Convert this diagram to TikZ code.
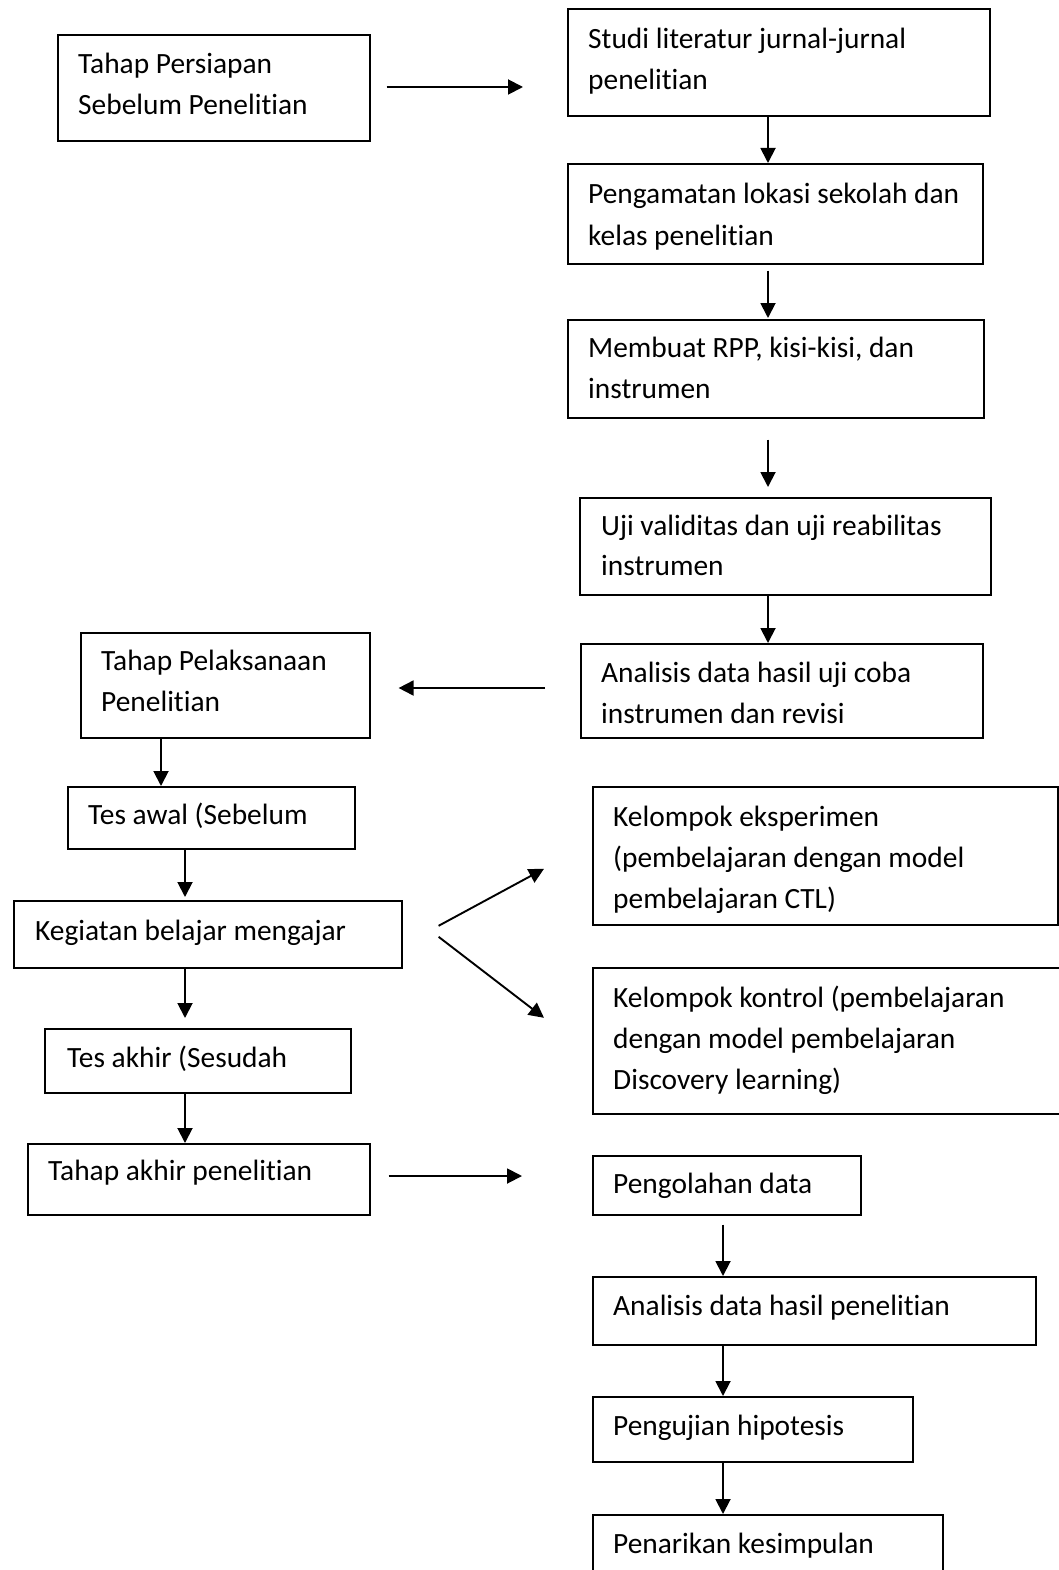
\documentclass[tikz,border=0pt]{standalone}
\usepackage{fontspec}
\setmainfont{Carlito}[Ligatures={NoCommon}]
\usetikzlibrary{arrows.meta,calc}
\tikzset{
  box/.style={draw=black, line width=1.6pt, anchor=north west, inner sep=0pt},
  txt/.style={anchor=base west, inner sep=0pt, font=\fontsize{29.4}{35}\selectfont},
  arr/.style={line width=1.9pt, -{Triangle[length=15pt,width=15pt]}}
}
\newcommand\mkbox[5]{\node[box, minimum width=#4pt-#2pt, minimum height=#5pt-#3pt] (#1) at (#2,#3) {};}
\newcommand\mkline[4]{\node[txt] (#1) at (#2,#3) {#4};}
\begin{document}
\begin{tikzpicture}[x=1pt,y=-1pt]
\clip (0,0) rectangle (1059,1570);
\fill[white] (0,0) rectangle (1059,1570);
% boxes
\mkbox{b1}{57}{34}{369}{140}
\mkbox{b2}{567}{8}{989}{115}
\mkbox{b3}{567}{163}{982}{263}
\mkbox{b4}{567}{319}{983}{417}
\mkbox{b5}{579}{497}{990}{594}
\mkbox{b6}{580}{643}{982}{737}
\mkbox{b7}{80}{632}{369}{737}
\mkbox{b8}{67}{786}{354}{848}
\mkbox{b9}{13}{900}{401}{967}
\mkbox{b10}{44}{1028}{350}{1092}
\mkbox{b11}{27}{1143}{369}{1214}
\mkbox{b12}{592}{786}{1057}{924}
\mkbox{b13}{592}{967}{1070}{1113}
\mkbox{b14}{592}{1155}{860}{1214}
\mkbox{b15}{592}{1276}{1035}{1344}
\mkbox{b16}{592}{1396}{912}{1461}
\mkbox{b17}{592}{1514}{942}{1600}
% texts
\mkline{t1a}{78}{74}{Tahap Persiapan}
\mkline{t1b}{78}{115}{Sebelum Penelitian}
\mkline{t2a}{588}{49}{Studi literatur jurnal-jurnal}
\mkline{t2b}{588}{90}{penelitian}
\mkline{t3a}{588}{204}{Pengamatan lokasi sekolah dan}
\mkline{t3b}{588}{245}{kelas penelitian}
\mkline{t4a}{588}{357}{Membuat RPP, kisi-kisi, dan}
\mkline{t4b}{588}{398}{instrumen}
\mkline{t5a}{601}{535}{Uji validitas dan uji reabilitas}
\mkline{t5b}{601}{575}{instrumen}
\mkline{t6a}{601}{682}{Analisis data hasil uji coba}
\mkline{t6b}{601}{723}{instrumen dan revisi}
\mkline{t7a}{101}{670}{Tahap Pelaksanaan}
\mkline{t7b}{101}{711}{Penelitian}
\mkline{t8}{88}{824}{Tes awal (Sebelum}
\mkline{t9}{35}{940}{Kegiatan belajar mengajar}
\mkline{t10}{67}{1067}{Tes akhir (Sesudah}
\mkline{t11}{48}{1180}{Tahap akhir penelitian}
\mkline{t12a}{613}{826}{Kelompok eksperimen}
\mkline{t12b}{613}{867}{(pembelajaran dengan model}
\mkline{t12c}{613}{908}{pembelajaran CTL)}
\mkline{t13a}{613}{1007}{Kelompok kontrol (pembelajaran}
\mkline{t13b}{613}{1048}{dengan model pembelajaran}
\mkline{t13c}{613}{1089}{Discovery learning)}
\mkline{t14}{613}{1193}{Pengolahan data}
\mkline{t15}{613}{1315}{Analisis data hasil penelitian}
\mkline{t16}{613}{1435}{Pengujian hipotesis}
\mkline{t17}{613}{1553}{Penarikan kesimpulan}
% connectors
\draw[arr, shorten <=16pt, shorten >=44pt] (b1.east |- 0,87) -- (b2.west |- 0,87);
\draw[arr] (b2.south -| 768,0) -- (b3.north -| 768,0);
\draw[arr, shorten <=6pt, shorten >=1pt] (b3.south -| 768,0) -- (b4.north -| 768,0);
\draw[arr, shorten <=21pt, shorten >=10pt] (b4.south -| 768,0) -- (b5.north -| 768,0);
\draw[arr] (b5.south -| 768,0) -- (b6.north -| 768,0);
\draw[arr, shorten <=35pt, shorten >=28pt] (b6.west |- 0,688) -- (b7.east |- 0,688);
\draw[arr] (b7.south -| 161,0) -- (b8.north -| 161,0);
\draw[arr, shorten >=3pt] (b8.south -| 185,0) -- (b9.north -| 185,0);
\draw[arr, shorten >=10pt] (b9.south -| 185,0) -- (b10.north -| 185,0);
\draw[arr] (b10.south -| 185,0) -- (b11.north -| 185,0);
\draw[arr] ($(b9.east)+(36,-8.5)$) -- ($(b12.west)+(-48,13)$);
\draw[arr] ($(b9.east)+(36,2.5)$) -- ($(b13.west)+(-48,-23)$);
\draw[arr, shorten <=18pt, shorten >=70pt] (b11.east |- 0,1176) -- (b14.west |- 0,1176);
\draw[arr, shorten <=9pt] (b14.south -| 723,0) -- (b15.north -| 723,0);
\draw[arr] (b15.south -| 723,0) -- (b16.north -| 723,0);
\draw[arr] (b16.south -| 723,0) -- (b17.north -| 723,0);
\end{tikzpicture}
\end{document}
